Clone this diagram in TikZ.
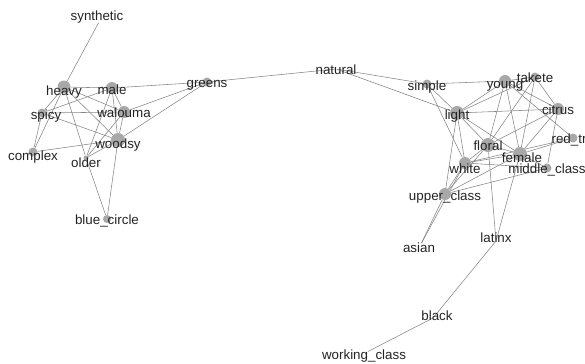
\documentclass[tikz,border=0pt]{standalone}
\usepackage{fontspec}
\setmainfont{Liberation Sans}
\usepackage{tikz}
\usetikzlibrary{backgrounds,positioning}

\definecolor{nodegray}{RGB}{168,168,168}
\definecolor{linegray}{RGB}{135,135,135}
\definecolor{textgray}{RGB}{35,35,35}

\tikzset{
  term/.style={circle,fill=nodegray,inner sep=0pt,minimum size=#1*0.25mm},
  spot/.style={circle,inner sep=0pt,minimum size=1pt},
  word/.style={font=\fontsize{9.5}{11}\selectfont,text=textgray,inner sep=0pt,yshift=-0.75mm},
  link/.style={draw=linegray,line width=0.4pt}
}

\begin{document}
\begin{tikzpicture}[x=0.025cm,y=-0.025cm]
      \useasboundingbox (0,0) rectangle (585,363);

      % left cluster
      \node[spot,label={[word,xshift=-0.5mm,yshift=2mm]center:synthetic}] (synthetic) at (99,22) {};
      \node[term=13,label={[word,yshift=-0.5mm]center:heavy}] (heavy) at (64,87) {};
      \node[term=12,label={[word,yshift=0.25mm]center:male}] (male) at (112,88) {};
      \node[term=12,label={[word,yshift=0.5mm]center:walouma}] (walouma) at (124,112) {};
      \node[term=9,label={[word,xshift=1mm]center:spicy}] (spicy) at (42,113) {};
      \node[term=14,label={[word,yshift=-0.5mm]center:woodsy}] (woodsy) at (118,140) {};
      \node[term=9,label={[word,yshift=-0.5mm]center:complex}] (complex) at (33,152) {};
      \node[term=5,label={[word,yshift=-0.5mm]center:older}] (older) at (86,158) {};
      \node[term=8,label={[word,yshift=0.25mm]center:blue\_circle}] (bluecircle) at (107,219) {};
      \node[term=9,label={[word]center:greens}] (greens) at (207,82) {};

      % middle
      \node[spot,label={[word,yshift=0.5mm]center:natural}] (natural) at (336,69) {};

      % right cluster
      \node[term=9,label={[word]center:simple}] (simple) at (427,84) {};
      \node[term=12,label={[word,yshift=-0.5mm]center:young}] (young) at (505,81) {};
      \node[term=9,label={[word,yshift=0.5mm]center:takete}] (takete) at (535,77) {};
      \node[term=14,label={[word]center:light}] (light) at (457,113) {};
      \node[term=12,label={[word,yshift=0.5mm]center:citrus}] (citrus) at (558,109) {};
      \node[term=9,label={[word,xshift=-1mm,yshift=0.25mm]center:red\_tr}] (redt) at (573,138) {};
      \node[term=14,label={[word,yshift=0.5mm]center:floral}] (floral) at (488,145) {};
      \node[term=14,label={[word,xshift=0.5mm,yshift=-0.25mm]center:female}] (female) at (520,154) {};
      \node[term=9,label={[word,yshift=0.25mm]center:middle\_class}] (middleclass) at (547,168) {};
      \node[term=12,label={[word,yshift=-0.75mm]center:white}] (white) at (465,163) {};
      \node[term=12,label={[word]center:upper\_class}] (upperclass) at (445,194) {};
      \node[spot,label={[word,xshift=-0.5mm,yshift=-0.25mm]center:asian}] (asian) at (421,244) {};
      \node[spot,label={[word,yshift=1.5mm]center:latinx}] (latinx) at (496,241) {};
      \node[spot,label={[word,xshift=1mm,yshift=1.25mm]center:black}] (black) at (433,318) {};
      \node[spot,label={[word,xshift=-0.75mm,yshift=-0.25mm]center:working\_class}] (workingclass) at (367,352) {};

      \begin{scope}[on background layer]
      \draw[link] (synthetic) -- (heavy);
      \draw[link] (heavy) -- (male);
      \draw[link] (heavy) -- (spicy);
      \draw[link] (heavy) -- (complex);
      \draw[link] (heavy) -- (walouma);
      \draw[link] (heavy) -- (woodsy);
      \draw[link] (heavy) -- (older);
      \draw[link] (spicy) -- (male);
      \draw[link] (spicy) -- (walouma);
      \draw[link] (spicy) -- (woodsy);
      \draw[link] (spicy) -- (complex);
      \draw[link] (male) -- (walouma);
      \draw[link] (male) -- (woodsy);
      \draw[link] (male) -- (older);
      \draw[link] (male) -- (greens);
      \draw[link] (walouma) -- (woodsy);
      \draw[link] (walouma) -- (older);
      \draw[link] (walouma) -- (greens);
      \draw[link] (woodsy) -- (greens);
      \draw[link] (complex) -- (woodsy);
      \draw[link] (older) -- (woodsy);
      \draw[link] (older) -- (bluecircle);
      \draw[link] (woodsy) -- (bluecircle);
      \draw[link] (greens) -- (natural);
      \draw[link] (natural) -- (simple);
      \draw[link] (natural) -- (light);
      \draw[link] (simple) -- (young);
      \draw[link] (simple) -- (light);
      \draw[link] (simple) -- (white);
      \draw[link] (light) -- (young);
      \draw[link] (light) -- (takete);
      \draw[link] (light) -- (citrus);
      \draw[link] (light) -- (floral);
      \draw[link] (light) -- (female);
      \draw[link] (light) -- (white);
      \draw[link] (light) -- (upperclass);
      \draw[link] (young) -- (takete);
      \draw[link] (young) -- (citrus);
      \draw[link] (young) -- (floral);
      \draw[link] (young) -- (female);
      \draw[link] (young) -- (redt);
      \draw[link] (takete) -- (citrus);
      \draw[link] (takete) -- (floral);
      \draw[link] (takete) -- (female);
      \draw[link] (citrus) -- (floral);
      \draw[link] (citrus) -- (female);
      \draw[link] (citrus) -- (middleclass);
      \draw[link] (redt) -- (female);
      \draw[link] (redt) -- (white);
      \draw[link] (floral) -- (female);
      \draw[link] (floral) -- (white);
      \draw[link] (floral) -- (upperclass);
      \draw[link] (floral) -- (latinx);
      \draw[link] (female) -- (middleclass);
      \draw[link] (female) -- (white);
      \draw[link] (female) -- (upperclass);
      \draw[link] (female) -- (latinx);
      \draw[link] (white) -- (middleclass);
      \draw[link] (white) -- (upperclass);
      \draw[link] (middleclass) -- (upperclass);
      \draw[link] (white) -- (asian);
      \draw[link] (upperclass) -- (asian);
      \draw[link] (latinx) -- (black);
      \draw[link] (black) -- (workingclass);
      \end{scope}

\end{tikzpicture}
\end{document}
